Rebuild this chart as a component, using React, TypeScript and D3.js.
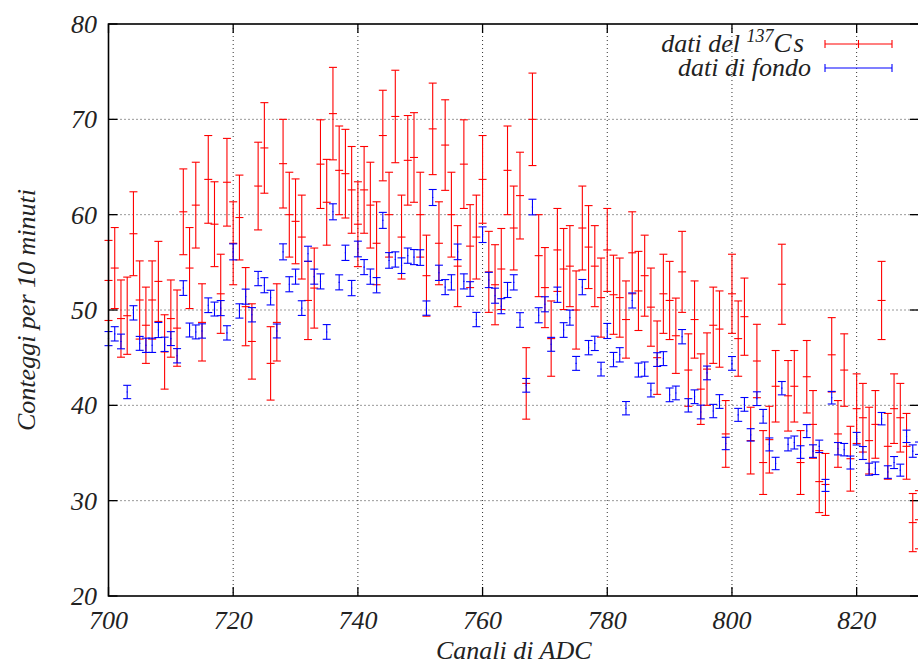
import React from 'react';
import * as d3 from 'd3';

const channels = d3.range(700, 831);

const csCounts = [
  53.1, 54.4, 49.1, 49.4, 58.0, 51.05, 48.4, 51.05, 53.0, 45.6,
  49.1, 48.1, 60.3, 54.4, 61.0, 48.7, 63.7, 59.0, 51.7, 63.4,
  57.0, 59.7, 50.35, 46.7, 63.0, 67.0, 44.4, 48.7, 65.35, 60.0,
  59.3, 57.65, 51.0, 52.3, 65.3, 61.3, 70.6, 64.65, 64.3, 62.6,
  59.0, 62.6, 61.0, 57.0, 68.3, 60.0, 70.3, 57.65, 65.7, 66.0,
  60.0, 53.6, 69.0, 57.0, 67.3, 60.0, 54.6, 65.3, 56.7, 57.65,
  63.7, 54.0, 52.65, 54.3, 64.65, 58.6, 62.0, 42.3, 70.0, 55.7,
  52.35, 47.0, 56.3, 54.3, 54.6, 50.0, 58.6, 56.6, 54.6, 51.3,
  56.3, 51.6, 51.3, 49.0, 56.0, 52.0, 53.6, 50.3, 45.0, 51.7,
  51.0, 47.3, 54.0, 43.7, 49.0, 41.7, 43.8, 48.4, 48.0, 37.0,
  51.7, 47.0, 49.3, 36.3, 44.65, 34.0, 36.4, 42.0, 52.7, 41.0,
  42.0, 34.0, 43.0, 38.0, 32.0, 31.7, 45.3, 37.0, 43.7, 34.4,
  39.65, 38.7, 36.3, 38.0, 51.0, 35.7, 39.65, 38.7, 35.7, 27.7,
  28.0,
];

const csErrors = [
  4.2, 4.25, 4.05, 4.05, 4.4, 4.1, 4.0, 4.1, 4.2, 3.9,
  4.05, 4.0, 4.5, 4.25, 4.5, 4.05, 4.6, 4.45, 4.15, 4.6,
  4.35, 4.45, 4.1, 3.95, 4.6, 4.75, 3.85, 4.05, 4.65, 4.45,
  4.45, 4.4, 4.1, 4.2, 4.65, 4.5, 4.85, 4.65, 4.65, 4.55,
  4.45, 4.55, 4.5, 4.35, 4.75, 4.45, 4.85, 4.4, 4.7, 4.7,
  4.45, 4.25, 4.8, 4.35, 4.75, 4.45, 4.25, 4.65, 4.35, 4.4,
  4.6, 4.25, 4.2, 4.25, 4.65, 4.4, 4.55, 3.75, 4.85, 4.3,
  4.2, 3.95, 4.35, 4.25, 4.25, 4.1, 4.4, 4.35, 4.25, 4.15,
  4.35, 4.15, 4.15, 4.05, 4.3, 4.15, 4.25, 4.1, 3.85, 4.15,
  4.1, 3.95, 4.25, 3.8, 4.05, 3.7, 3.8, 4.0, 4.0, 3.5,
  4.15, 3.95, 4.05, 3.5, 3.85, 3.35, 3.5, 3.75, 4.2, 3.7,
  3.75, 3.35, 3.8, 3.55, 3.25, 3.25, 3.9, 3.5, 3.8, 3.4,
  3.65, 3.6, 3.5, 3.55, 4.1, 3.45, 3.65, 3.6, 3.45, 3.05,
  3.05,
];

const bgCounts = [
  47.0, 47.5, 46.7, 41.4, 49.7, 46.5, 46.3, 46.3, 47.9, 46.4,
  47.0, 45.2, 52.3, 47.9, 47.7, 47.8, 50.5, 50.1, 50.2, 47.6,
  56.1, 49.9, 51.4, 49.5, 53.3, 52.6, 51.3, 47.8, 56.1, 52.7,
  53.5, 50.2, 55.9, 53.5, 53.0, 47.7, 60.3, 52.9, 56.0, 52.3,
  56.4, 54.5, 53.5, 52.6, 59.4, 55.2, 55.3, 54.65, 55.7, 55.55,
  55.5, 50.2, 61.8, 53.9, 52.4, 52.9, 56.1, 53.0, 52.2, 49.0,
  57.9, 53.15, 51.5, 50.4, 52.1, 52.9, 48.95, 42.1, 60.8, 49.45,
  50.6, 46.4, 51.6, 47.9, 49.2, 44.4, 52.4, 46.05, 46.5, 43.8,
  47.8, 44.8, 45.3, 39.7, 51.0, 43.7, 43.8, 41.6, 44.8, 44.9,
  41.1, 41.3, 47.2, 40.0, 40.9, 39.3, 43.4, 39.4, 40.4, 36.0,
  44.4, 39.0, 40.1, 36.9, 40.7, 38.85, 35.9, 33.9, 41.8, 35.9,
  36.1, 35.1, 37.3, 35.2, 35.7, 31.6, 40.8, 35.45, 35.35, 34.0,
  36.5, 35.0, 33.3, 33.4, 38.6, 33.0, 34.0, 33.2, 36.75, 35.2,
  35.5,
];

const bgErrors = [
  0.74, 0.75, 0.77, 0.70, 0.75, 0.73, 0.75, 0.75, 0.79, 0.75,
  0.73, 0.75, 0.77, 0.73, 0.73, 0.75, 0.77, 0.73, 0.79, 0.75,
  0.84, 0.75, 0.79, 0.75, 0.75, 0.79, 0.77, 0.73, 0.84, 0.79,
  0.79, 0.77, 0.79, 0.79, 0.79, 0.77, 0.84, 0.79, 0.80, 0.80,
  0.82, 0.79, 0.80, 0.80, 0.84, 0.82, 0.80, 0.82, 0.80, 0.79,
  0.82, 0.75, 0.84, 0.80, 0.79, 0.80, 0.82, 0.79, 0.77, 0.75,
  0.82, 0.80, 0.79, 0.79, 0.79, 0.80, 0.77, 0.72, 0.82, 0.79,
  0.79, 0.73, 0.80, 0.77, 0.79, 0.73, 0.80, 0.75, 0.75, 0.72,
  0.79, 0.75, 0.75, 0.70, 0.79, 0.73, 0.75, 0.72, 0.72, 0.73,
  0.72, 0.72, 0.75, 0.70, 0.72, 0.72, 0.72, 0.70, 0.72, 0.65,
  0.72, 0.68, 0.72, 0.65, 0.72, 0.72, 0.68, 0.65, 0.70, 0.68,
  0.68, 0.66, 0.68, 0.66, 0.65, 0.63, 0.66, 0.65, 0.65, 0.68,
  0.66, 0.68, 0.63, 0.66, 0.65, 0.66, 0.63, 0.63, 0.65, 0.65,
  0.65,
];

const xTicks = [700, 720, 740, 760, 780, 800, 820];
const yTicks = [20, 30, 40, 50, 60, 70, 80];

const W = 918;
const H = 666;
const LEFT = 108.5;
const RIGHT = 919;
const TOP = 24;
const BOTTOM = 596;
const FONT = 'Liberation Serif, Times New Roman, serif';

export default function App() {
  const x = d3.scaleLinear().domain([700, 830]).range([LEFT, RIGHT]);
  const y = d3.scaleLinear().domain([20, 80]).range([BOTTOM, TOP]);
  const cap = 4;
  const tick = 9;

  const errBars = (vals: number[], errs: number[], color: string, center: boolean) =>
    channels.map((c, i) => {
      const cx = x(c);
      const y0 = y(vals[i] - errs[i]);
      const y1 = y(vals[i] + errs[i]);
      const yc = y(vals[i]);
      return (
        <g key={c} stroke={color} strokeWidth={1.1}>
          <line x1={cx} x2={cx} y1={y0} y2={y1} />
          <line x1={cx - cap} x2={cx + cap} y1={y0} y2={y0} />
          <line x1={cx - cap} x2={cx + cap} y1={y1} y2={y1} />
          {center ? (
            <line x1={cx - cap} x2={cx + cap} y1={yc} y2={yc} />
          ) : (
            <line x1={cx - 0.6} x2={cx + 0.6} y1={yc} y2={yc} />
          )}
        </g>
      );
    });

  return (
    <svg
      width={W}
      height={H}
      style={{ position: 'absolute', left: 0, top: 0, background: '#fff' }}
    >
      <rect x={0} y={0} width={W} height={H} fill="#fff" />
      {/* grid */}
      <g stroke="#333" strokeWidth={1} strokeDasharray="1,3">
        {xTicks
          .filter((t) => t > 700)
          .map((t) => (
            <line key={'gx' + t} x1={x(t)} x2={x(t)} y1={TOP} y2={BOTTOM} />
          ))}
        {yTicks
          .filter((t) => t > 20 && t < 80)
          .map((t) => (
            <line key={'gy' + t} x1={LEFT} x2={RIGHT} y1={y(t)} y2={y(t)} />
          ))}
      </g>
      {/* ticks */}
      <g stroke="#000" strokeWidth={1.3}>
        {xTicks.map((t) => (
          <g key={'tx' + t}>
            <line x1={x(t)} x2={x(t)} y1={BOTTOM} y2={BOTTOM - tick} />
            <line x1={x(t)} x2={x(t)} y1={TOP} y2={TOP + tick} />
          </g>
        ))}
        {yTicks.map((t) => (
          <g key={'ty' + t}>
            <line x1={LEFT} x2={LEFT + tick} y1={y(t)} y2={y(t)} />
            <line x1={RIGHT} x2={RIGHT - tick} y1={y(t)} y2={y(t)} />
          </g>
        ))}
      </g>
      {/* data */}
      {errBars(csCounts, csErrors, '#ff0000', true)}
      {errBars(bgCounts, bgErrors, '#0000ff', false)}
      {/* frame */}
      <rect
        x={LEFT}
        y={TOP}
        width={RIGHT - LEFT}
        height={BOTTOM - TOP}
        fill="none"
        stroke="#000"
        strokeWidth={1.6}
      />
      {/* tick labels */}
      <g fontFamily={FONT} fontStyle="italic" fontSize={26} fill="#222">
        {yTicks.map((t) => (
          <text key={'ly' + t} x={97} y={y(t)} dy="0.35em" textAnchor="end">
            {t}
          </text>
        ))}
        {xTicks.map((t) => (
          <text key={'lx' + t} x={x(t)} y={629} textAnchor="middle">
            {t}
          </text>
        ))}
        <text x={(LEFT + RIGHT) / 2} y={659} textAnchor="middle">
          Canali di ADC
        </text>
        <text
          transform={`translate(35, ${(TOP + BOTTOM) / 2}) rotate(-90)`}
          textAnchor="middle"
        >
          Conteggi per 10 minuti
        </text>
        {/* legend */}
        <text x={806} y={52} textAnchor="end">
          dati del <tspan fontSize={18} dy={-10}>137</tspan>
          <tspan dy={10} fontSize={27} letterSpacing={2}>Cs</tspan>
        </text>
        <text x={811} y={76} textAnchor="end">
          dati di fondo
        </text>
      </g>
      <g stroke="#ff0000" strokeWidth={1.1}>
        <line x1={825} x2={892} y1={44} y2={44} />
        <line x1={825} x2={825} y1={40} y2={48} />
        <line x1={892} x2={892} y1={40} y2={48} />
        <line x1={858.5} x2={858.5} y1={40} y2={48} />
      </g>
      <g stroke="#0000ff" strokeWidth={1.1}>
        <line x1={825} x2={892} y1={68} y2={68} />
        <line x1={825} x2={825} y1={64} y2={72} />
        <line x1={892} x2={892} y1={64} y2={72} />
      </g>
    </svg>
  );
}
